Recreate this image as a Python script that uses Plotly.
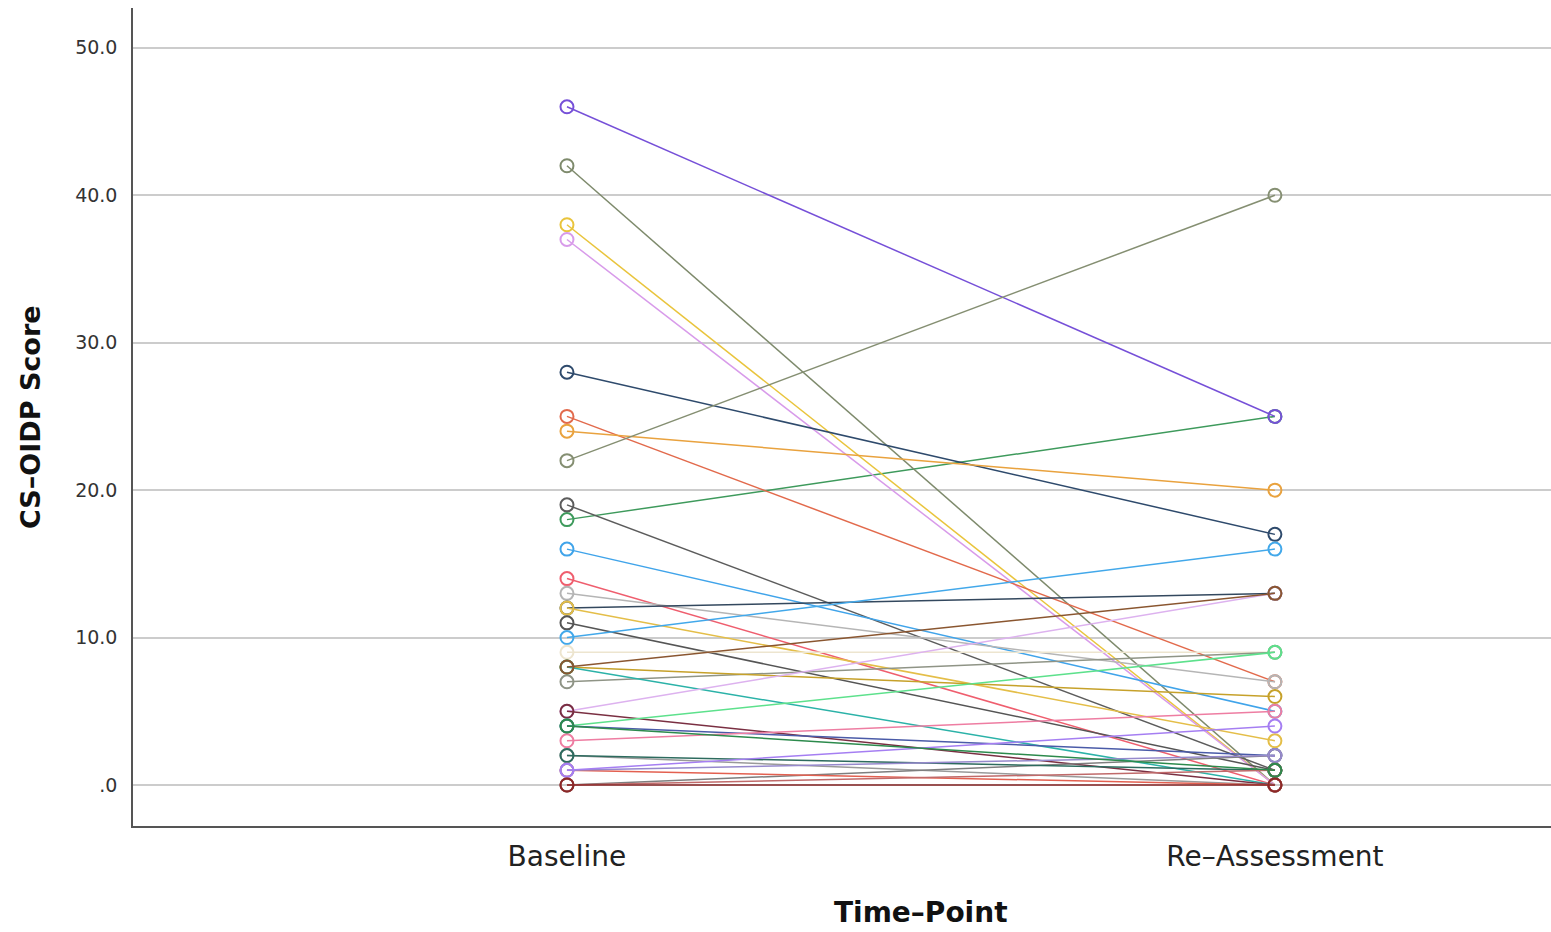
import plotly.graph_objects as go

# Paired CS-OIDP scores per participant: baseline and re-assessment
time_points = ["Baseline", "Re–Assessment"]
baseline = [18, 46, 42, 38, 37, 28, 25, 24, 22, 19, 16, 14, 13, 12, 12, 11, 10, 9,
            7, 8, 8, 5, 8, 5, 4, 4, 3, 2, 0, 2, 1, 1, 1, 0, 4, 0]
reassess = [25, 25, 0, 0, 0, 17, 7, 20, 40, 1, 5, 0, 7, 13, 3, 1, 16, 9,
            9, 6, 0, 13, 13, 0, 9, 2, 5, 0, 2, 1, 0, 2, 4, 1, 1, 0]
colors = ["#3E9A5C", "#7650D8", "#7E8A6C", "#E9C43C", "#D89BEA", "#2E4A6C",
          "#E26A4C", "#E9A23E", "#858F72", "#5C5C5C", "#40A4EA", "#EF5E6E",
          "#B5B5B5", "#33485E", "#E4BE48", "#555555", "#42A8EA", "#EDE5CF",
          "#8F9486", "#C6A12A", "#2BB2A8", "#DDB2EF", "#8A5630", "#7A2F42",
          "#5DE18C", "#4A5BA8", "#EE7DA2", "#9A9A9A", "#7E7E7E", "#2D6B5E",
          "#E36050", "#9689CC", "#A57EF2", "#C06A6A", "#2C8A4C", "#8A2828"]
y_ticks = [0, 10, 20, 30, 40, 50]
y_tick_labels = [".0", "10.0", "20.0", "30.0", "40.0", "50.0"]

fig = go.Figure()
for b, r, c in zip(baseline, reassess, colors):
    fig.add_trace(go.Scatter(
        x=[0, 1], y=[b, r], mode="lines+markers",
        line=dict(color=c, width=1.5),
        marker=dict(symbol="circle-open", size=13, color=c, line=dict(width=2, color=c)),
        showlegend=False, hoverinfo="y",
    ))

fig.update_layout(
    width=1551, height=932,
    margin=dict(l=133, r=0, t=8, b=106),
    plot_bgcolor="white", paper_bgcolor="white",
    font=dict(family="DejaVu Sans", color="#222222"),
    xaxis=dict(
        range=[-0.613, 1.39], tickvals=[0, 1], ticktext=time_points,
        showgrid=False, zeroline=False, showline=True, linecolor="#555555", linewidth=1.5,
        tickfont=dict(size=28, color="#222222"), ticks="", ticklabelstandoff=5,
    ),
    yaxis=dict(
        range=[-2.78, 52.7], tickvals=y_ticks, ticktext=y_tick_labels,
        showgrid=True, gridcolor="#CCCCCC", gridwidth=2, zeroline=False,
        showline=True, linecolor="#555555", linewidth=1.5,
        tickfont=dict(size=19, color="#333333"), ticks="", ticklabelstandoff=10,
    ),
    annotations=[
        dict(text="<b>CS–OIDP Score</b>", x=-0.085, y=0.5, xref="paper", yref="paper",
             textangle=-90, showarrow=False, font=dict(size=27, color="#111111")),
        dict(text="<b>Time–Point</b>", x=0.556, y=-0.128, xref="paper", yref="paper",
             showarrow=False, font=dict(size=28, color="#111111")),
    ],
)

fig.write_html("out.html")
